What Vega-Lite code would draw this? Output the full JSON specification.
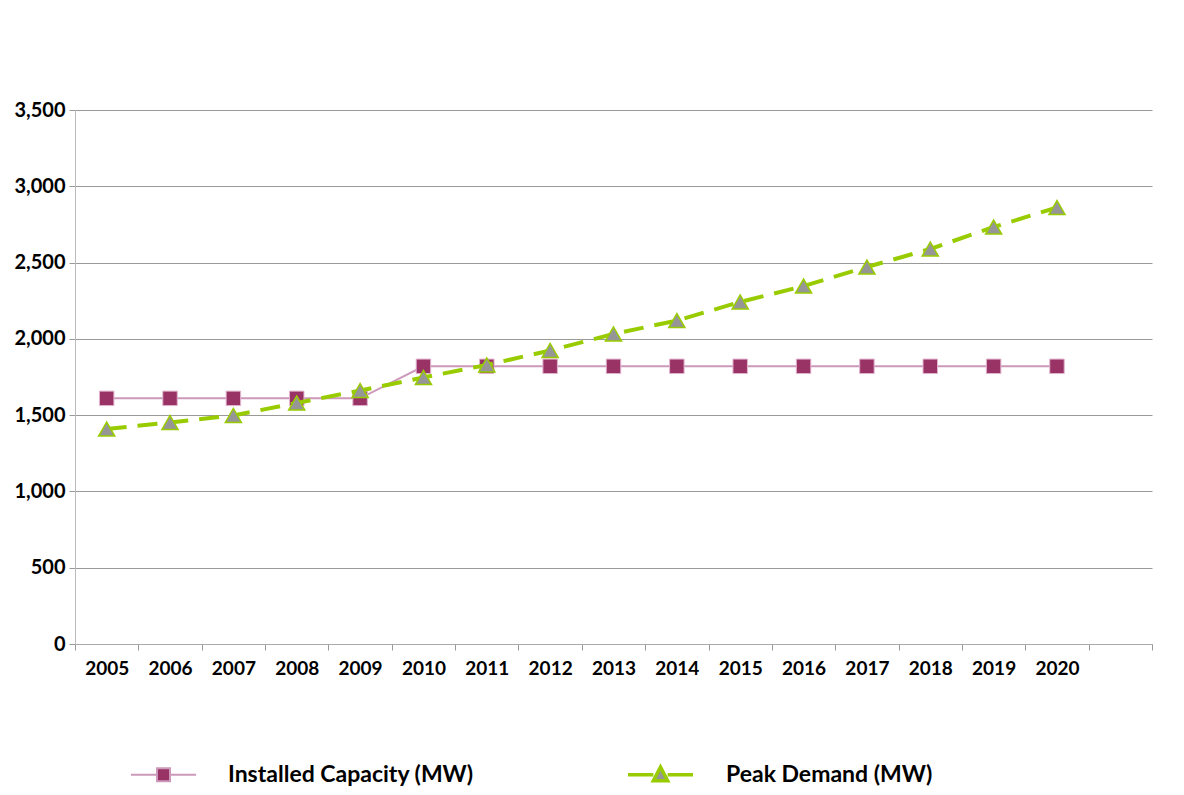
{
  "$schema": "https://vega.github.io/schema/vega-lite/v6.json",
  "width": 1077,
  "height": 534,
  "autosize": "none",
  "padding": {"left": 75, "top": 110, "right": 32, "bottom": 151},
  "background": "white",
  "config": {"view": {"stroke": null}, "font": "Lato"},
  "data": {
    "values": [
      {"year": 2005, "series": "Installed Capacity (MW)", "value": 1610},
      {"year": 2006, "series": "Installed Capacity (MW)", "value": 1610},
      {"year": 2007, "series": "Installed Capacity (MW)", "value": 1610},
      {"year": 2008, "series": "Installed Capacity (MW)", "value": 1610},
      {"year": 2009, "series": "Installed Capacity (MW)", "value": 1610},
      {"year": 2010, "series": "Installed Capacity (MW)", "value": 1820},
      {"year": 2011, "series": "Installed Capacity (MW)", "value": 1820},
      {"year": 2012, "series": "Installed Capacity (MW)", "value": 1820},
      {"year": 2013, "series": "Installed Capacity (MW)", "value": 1820},
      {"year": 2014, "series": "Installed Capacity (MW)", "value": 1820},
      {"year": 2015, "series": "Installed Capacity (MW)", "value": 1820},
      {"year": 2016, "series": "Installed Capacity (MW)", "value": 1820},
      {"year": 2017, "series": "Installed Capacity (MW)", "value": 1820},
      {"year": 2018, "series": "Installed Capacity (MW)", "value": 1820},
      {"year": 2019, "series": "Installed Capacity (MW)", "value": 1820},
      {"year": 2020, "series": "Installed Capacity (MW)", "value": 1820},
      {"year": 2005, "series": "Peak Demand (MW)", "value": 1409},
      {"year": 2006, "series": "Peak Demand (MW)", "value": 1452},
      {"year": 2007, "series": "Peak Demand (MW)", "value": 1498},
      {"year": 2008, "series": "Peak Demand (MW)", "value": 1580},
      {"year": 2009, "series": "Peak Demand (MW)", "value": 1661},
      {"year": 2010, "series": "Peak Demand (MW)", "value": 1747},
      {"year": 2011, "series": "Peak Demand (MW)", "value": 1829},
      {"year": 2012, "series": "Peak Demand (MW)", "value": 1924},
      {"year": 2013, "series": "Peak Demand (MW)", "value": 2032},
      {"year": 2014, "series": "Peak Demand (MW)", "value": 2120},
      {"year": 2015, "series": "Peak Demand (MW)", "value": 2242},
      {"year": 2016, "series": "Peak Demand (MW)", "value": 2346},
      {"year": 2017, "series": "Peak Demand (MW)", "value": 2471},
      {"year": 2018, "series": "Peak Demand (MW)", "value": 2589},
      {"year": 2019, "series": "Peak Demand (MW)", "value": 2733},
      {"year": 2020, "series": "Peak Demand (MW)", "value": 2861}
    ]
  },
  "encoding": {
    "x": {
      "field": "year",
      "type": "quantitative",
      "scale": {"domain": [2004.5, 2021.5], "nice": false, "zero": false},
      "axis": {
        "title": null,
        "grid": false,
        "values": [2004.5, 2005, 2005.5, 2006, 2006.5, 2007, 2007.5, 2008, 2008.5, 2009, 2009.5, 2010, 2010.5, 2011, 2011.5, 2012, 2012.5, 2013, 2013.5, 2014, 2014.5, 2015, 2015.5, 2016, 2016.5, 2017, 2017.5, 2018, 2018.5, 2019, 2019.5, 2020, 2020.5, 2021, 2021.5],
        "labelExpr": "(datum.value % 1 === 0 && datum.value <= 2020) ? toString(datum.value) : ''",
        "labelOverlap": false,
        "labelFlush": false,
        "tickOpacity": {"condition": {"test": "datum.value % 1 !== 0", "value": 1}, "value": 0},
        "tickColor": "#999999",
        "tickSize": 6,
        "domainColor": "#AAAAAA",
        "labelFont": "Lato",
        "labelFontSize": 19,
        "labelFontWeight": "bold",
        "labelColor": "black",
        "labelPadding": 9
      }
    },
    "y": {
      "field": "value",
      "type": "quantitative",
      "scale": {"domain": [0, 3500], "nice": false},
      "axis": {
        "title": null,
        "values": [0, 500, 1000, 1500, 2000, 2500, 3000, 3500],
        "format": ",.0f",
        "grid": true,
        "gridColor": "#999999",
        "domainColor": "#BBBBBB",
        "tickColor": "#999999",
        "tickSize": 6,
        "labelFont": "Lato",
        "labelFontSize": 20,
        "labelFontWeight": "bold",
        "labelColor": "black",
        "labelPadding": 4
      }
    }
  },
  "layer": [
    {
      "transform": [{"filter": "datum.series === 'Installed Capacity (MW)'"}],
      "mark": {"type": "line", "color": "#CC99BB", "strokeWidth": 2}
    },
    {
      "transform": [{"filter": "datum.series === 'Installed Capacity (MW)'"}],
      "mark": {"type": "point", "filled": true, "opacity": 1, "size": 210, "strokeWidth": 1, "shape": "square", "fill": "#993366", "stroke": "#E3B5CF"}
    },
    {
      "transform": [{"filter": "datum.series === 'Peak Demand (MW)'"}],
      "mark": {"type": "line", "color": "#99CC00", "strokeWidth": 4, "strokeDash": [20, 11]}
    },
    {
      "transform": [{"filter": "datum.series === 'Peak Demand (MW)'"}],
      "mark": {"type": "point", "filled": true, "opacity": 1, "size": 260, "strokeWidth": 1.5, "shape": "triangle-up", "fill": "#969696", "stroke": "#99CC00"}
    },
    {
      "transform": [{"filter": "false"}],
      "mark": {"type": "point", "filled": true, "opacity": 1},
      "encoding": {
        "shape": {
          "field": "series",
          "type": "nominal",
          "scale": {
            "domain": ["Installed Capacity (MW)", "Peak Demand (MW)"],
            "range": ["M -1 0 L -0.2 0 M 0.2 0 L 1 0 M -0.2 -0.2 L 0.2 -0.2 L 0.2 0.2 L -0.2 0.2 Z", "M -1 0 L -0.22 0 M 0.22 0 L 1 0 M 0 -0.24 L 0.22 0.18 L -0.22 0.18 Z"]
          },
          "legend": {
            "orient": "none",
            "legendX": 55,
            "legendY": 630,
            "direction": "horizontal",
            "title": null,
            "symbolSize": 4225,
            "symbolOpacity": 1,
            "labelFont": "Lato",
            "labelFontSize": 23,
            "labelFontWeight": "bold",
            "labelColor": "black",
            "labelOffset": 31,
            "columnPadding": 147,
            "labelLimit": 500
          }
        },
        "fill": {
          "field": "series",
          "type": "nominal",
          "scale": {"domain": ["Installed Capacity (MW)", "Peak Demand (MW)"], "range": ["#993366", "#969696"]}
        },
        "stroke": {
          "field": "series",
          "type": "nominal",
          "scale": {"domain": ["Installed Capacity (MW)", "Peak Demand (MW)"], "range": ["#CC99BB", "#99CC00"]}
        },
        "strokeWidth": {
          "field": "series",
          "type": "nominal",
          "scale": {"domain": ["Installed Capacity (MW)", "Peak Demand (MW)"], "range": [2, 3.5]}
        }
      }
    }
  ]
}
